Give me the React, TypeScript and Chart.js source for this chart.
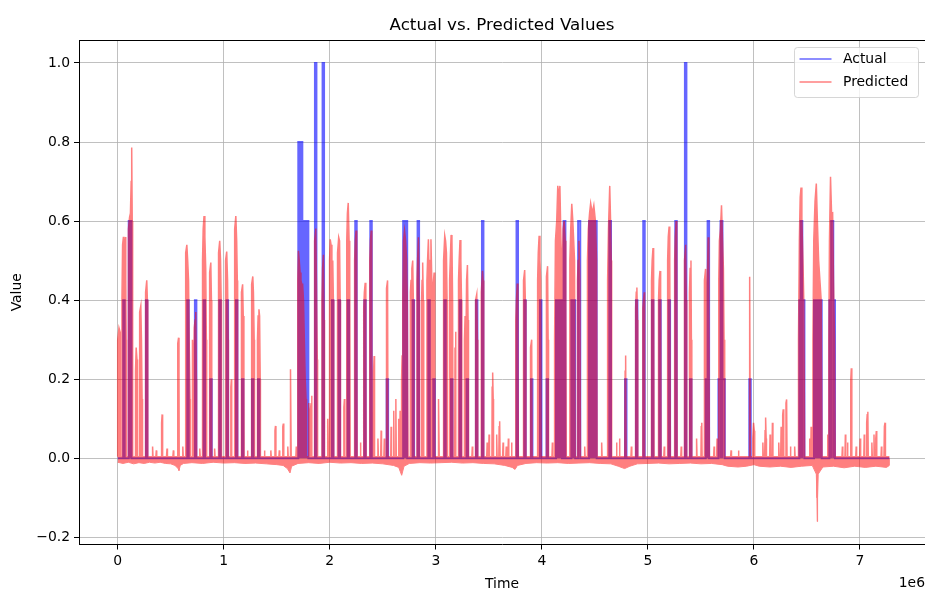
import React, { useEffect, useRef } from 'react';
import { Chart, registerables } from 'chart.js';

Chart.register(...registerables);

const CHART_TITLE = 'Actual vs. Predicted Values';
const X_LABEL = 'Time';
const Y_LABEL = 'Value';
const X_OFFSET_LABEL = '1e6';
const SERIES_NAMES = ['Actual', 'Predicted'];

const xTickValues = [0, 1, 2, 3, 4, 5, 6, 7];
const yTickValues = [-0.2, 0, 0.2, 0.4, 0.6, 0.8, 1.0];

// Actual series (time in units of 1e6): spike start, spike end, spike level
const actualStart = [
  0.052, 0.104, 0.118, 0.266, 0.656, 0.728, 0.810, 0.873, 0.958, 1.027, 1.115, 1.172, 1.266, 1.323,
  1.703, 1.722, 1.741, 1.760, 1.779, 1.860, 1.932, 2.020, 2.083, 2.168, 2.240, 2.325, 2.382, 2.536,
  2.692, 2.711, 2.781, 2.828, 2.929, 2.976, 3.080, 3.143, 3.224, 3.290, 3.378, 3.435, 3.761, 3.834,
  3.897, 3.982, 4.044, 4.133, 4.152, 4.171, 4.205, 4.278, 4.296, 4.342, 4.445, 4.463, 4.481, 4.499,
  4.636, 4.784, 4.887, 4.956, 5.038, 5.107, 5.195, 5.258, 5.349, 5.397, 5.545, 5.563, 5.665, 5.685,
  5.703, 5.956, 6.428, 6.440, 6.456, 6.566, 6.584, 6.602, 6.620, 6.711, 6.728, 6.748,
];
const actualEnd = [
  0.066, 0.118, 0.130, 0.280, 0.670, 0.742, 0.824, 0.887, 0.972, 1.041, 1.129, 1.186, 1.280, 1.337,
  1.722, 1.741, 1.760, 1.779, 1.798, 1.874, 1.946, 2.034, 2.097, 2.182, 2.254, 2.339, 2.396, 2.550,
  2.711, 2.730, 2.795, 2.842, 2.943, 2.990, 3.094, 3.157, 3.238, 3.304, 3.392, 3.449, 3.775, 3.848,
  3.911, 3.996, 4.058, 4.152, 4.171, 4.190, 4.222, 4.296, 4.314, 4.362, 4.463, 4.481, 4.499, 4.517,
  4.652, 4.798, 4.901, 4.970, 5.052, 5.121, 5.209, 5.272, 5.363, 5.411, 5.563, 5.577, 5.685, 5.703,
  5.725, 5.970, 6.440, 6.456, 6.476, 6.584, 6.602, 6.620, 6.639, 6.728, 6.748, 6.764,
];
const actualLevel = [
  0.4, 0.6, 0.6, 0.4, 0.4, 0.4, 0.4, 0.2, 0.4, 0.4, 0.4, 0.2, 0.2, 0.2,
  0.8, 0.8, 0.6, 0.6, 0.6, 1.0, 1.0, 0.4, 0.4, 0.4, 0.6, 0.4, 0.6, 0.2,
  0.6, 0.6, 0.4, 0.6, 0.4, 0.2, 0.4, 0.2, 0.4, 0.2, 0.4, 0.6, 0.6, 0.4,
  0.2, 0.4, 0.2, 0.4, 0.4, 0.4, 0.6, 0.4, 0.4, 0.6, 0.6, 0.6, 0.6, 0.6,
  0.6, 0.2, 0.4, 0.6, 0.4, 0.4, 0.4, 0.6, 1.0, 0.2, 0.2, 0.6, 0.2, 0.6,
  0.2, 0.2, 0.4, 0.6, 0.4, 0.4, 0.4, 0.4, 0.4, 0.4, 0.6, 0.4,
];
const seriesEnd = 7.277;

// Predicted series, upper envelope (time ×1e6, value)
const predictedPart1: [number, number][] = [
  [0.000, 0.004], [0.000, 0.30], [0.012, 0.33], [0.022, 0.32], [0.024, 0.004],
  [0.040, 0.004], [0.040, 0.40], [0.046, 0.54], [0.054, 0.56], [0.062, 0.50], [0.070, 0.56], [0.076, 0.45], [0.080, 0.30], [0.082, 0.004],
  [0.098, 0.004], [0.098, 0.45], [0.104, 0.58], [0.112, 0.61], [0.120, 0.62], [0.127, 0.70], [0.132, 0.786], [0.137, 0.60], [0.140, 0.30], [0.142, 0.004],
  [0.168, 0.004], [0.168, 0.22], [0.174, 0.28], [0.182, 0.25], [0.186, 0.10], [0.188, 0.004],
  [0.204, 0.004], [0.204, 0.30], [0.210, 0.37], [0.218, 0.386], [0.224, 0.30], [0.230, 0.15], [0.234, 0.004],
  [0.260, 0.004], [0.260, 0.38], [0.266, 0.42], [0.274, 0.45], [0.280, 0.40], [0.284, 0.004],
  [0.325, 0.004], [0.329, 0.03], [0.333, 0.004], [0.360, 0.004], [0.364, 0.02], [0.368, 0.004],
  [0.410, 0.004], [0.414, 0.09], [0.419, 0.111], [0.422, 0.09], [0.425, 0.004],
  [0.460, 0.004], [0.465, 0.025], [0.469, 0.004], [0.520, 0.004], [0.525, 0.02], [0.529, 0.004],
  [0.562, 0.004], [0.564, 0.25], [0.568, 0.29], [0.574, 0.305], [0.578, 0.20], [0.580, 0.004],
  [0.610, 0.004], [0.614, 0.03], [0.618, 0.004],
  [0.638, 0.004], [0.638, 0.45], [0.644, 0.52], [0.652, 0.54], [0.660, 0.50], [0.668, 0.45], [0.674, 0.30], [0.682, 0.15], [0.685, 0.004],
  [0.702, 0.004], [0.702, 0.25], [0.708, 0.30], [0.716, 0.20], [0.722, 0.33], [0.730, 0.35], [0.736, 0.37], [0.742, 0.20], [0.744, 0.004],
  [0.770, 0.004], [0.774, 0.025], [0.778, 0.004],
  [0.800, 0.004], [0.800, 0.50], [0.806, 0.58], [0.814, 0.613], [0.822, 0.56], [0.830, 0.48], [0.836, 0.30], [0.839, 0.004],
  [0.864, 0.004], [0.864, 0.40], [0.870, 0.47], [0.878, 0.495], [0.884, 0.40], [0.887, 0.004],
  [0.910, 0.004], [0.914, 0.025], [0.918, 0.004],
  [0.948, 0.004], [0.948, 0.45], [0.954, 0.52], [0.962, 0.55], [0.970, 0.50], [0.976, 0.40], [0.979, 0.004],
  [1.014, 0.004], [1.014, 0.45], [1.020, 0.50], [1.028, 0.523], [1.036, 0.45], [1.042, 0.30], [1.044, 0.004],
  [1.065, 0.004], [1.067, 0.18], [1.072, 0.20], [1.075, 0.004],
  [1.100, 0.004], [1.100, 0.50], [1.106, 0.58], [1.114, 0.613], [1.122, 0.55], [1.128, 0.45], [1.131, 0.004],
  [1.164, 0.004], [1.164, 0.35], [1.170, 0.42], [1.178, 0.44], [1.184, 0.36], [1.190, 0.20], [1.192, 0.004],
  [1.220, 0.004], [1.224, 0.02], [1.228, 0.004],
  [1.260, 0.004], [1.260, 0.40], [1.266, 0.44], [1.274, 0.46], [1.280, 0.42], [1.287, 0.30], [1.290, 0.004],
  [1.318, 0.004], [1.318, 0.30], [1.324, 0.36], [1.332, 0.377], [1.338, 0.36], [1.344, 0.20], [1.346, 0.004],
  [1.380, 0.004], [1.384, 0.02], [1.388, 0.004], [1.440, 0.004], [1.444, 0.02], [1.448, 0.004],
  [1.480, 0.004], [1.483, 0.07], [1.488, 0.082], [1.492, 0.004],
  [1.520, 0.004], [1.524, 0.02], [1.528, 0.004],
  [1.555, 0.004], [1.557, 0.08], [1.562, 0.088], [1.566, 0.004],
  [1.600, 0.004], [1.604, 0.03], [1.608, 0.004],
  [1.625, 0.004], [1.627, 0.20], [1.632, 0.225], [1.636, 0.004],
  [1.680, 0.004], [1.684, 0.03], [1.688, 0.004],
];
const predictedPart2: [number, number][] = [
  [1.698, 0.004], [1.698, 0.45], [1.704, 0.525], [1.712, 0.50], [1.720, 0.47], [1.728, 0.45], [1.736, 0.44],
  [1.744, 0.44], [1.752, 0.40], [1.760, 0.30], [1.768, 0.20], [1.776, 0.15], [1.780, 0.004],
  [1.802, 0.004], [1.802, 0.14], [1.808, 0.08], [1.816, 0.12], [1.824, 0.14], [1.829, 0.158], [1.832, 0.004],
  [1.854, 0.004], [1.854, 0.45], [1.860, 0.55], [1.868, 0.581], [1.874, 0.45], [1.882, 0.25], [1.885, 0.004],
  [1.926, 0.004], [1.926, 0.40], [1.932, 0.48], [1.940, 0.515], [1.946, 0.35], [1.950, 0.004],
  [1.976, 0.004], [1.978, 0.09], [1.983, 0.10], [1.986, 0.004],
  [1.998, 0.004], [1.998, 0.50], [2.004, 0.554], [2.012, 0.54], [2.020, 0.45], [2.028, 0.50], [2.034, 0.40], [2.038, 0.004],
  [2.070, 0.004], [2.070, 0.45], [2.076, 0.52], [2.084, 0.559], [2.092, 0.55], [2.098, 0.40], [2.101, 0.004],
  [2.131, 0.004], [2.133, 0.13], [2.138, 0.15], [2.142, 0.004],
  [2.160, 0.004], [2.160, 0.55], [2.166, 0.62], [2.174, 0.646], [2.182, 0.55], [2.188, 0.45], [2.192, 0.004],
  [2.234, 0.004], [2.234, 0.50], [2.240, 0.55], [2.248, 0.576], [2.254, 0.45], [2.258, 0.004],
  [2.285, 0.004], [2.289, 0.04], [2.293, 0.004],
  [2.320, 0.004], [2.320, 0.38], [2.326, 0.42], [2.334, 0.444], [2.340, 0.30], [2.343, 0.004],
  [2.377, 0.004], [2.377, 0.50], [2.383, 0.55], [2.391, 0.576], [2.396, 0.35], [2.400, 0.004],
  [2.410, 0.004], [2.413, 0.22], [2.418, 0.259], [2.422, 0.004],
  [2.450, 0.004], [2.454, 0.05], [2.458, 0.004], [2.480, 0.004], [2.484, 0.07], [2.488, 0.004],
  [2.510, 0.004], [2.514, 0.05], [2.518, 0.004],
  [2.532, 0.004], [2.532, 0.40], [2.538, 0.43], [2.545, 0.45], [2.549, 0.004],
  [2.575, 0.004], [2.578, 0.08], [2.582, 0.004], [2.599, 0.004], [2.603, 0.12], [2.607, 0.004],
  [2.619, 0.004], [2.623, 0.15], [2.627, 0.004], [2.644, 0.004], [2.648, 0.10], [2.652, 0.004],
  [2.659, 0.004], [2.663, 0.12], [2.667, 0.004],
  [2.675, 0.004], [2.677, 0.20], [2.682, 0.259], [2.688, 0.40], [2.695, 0.55], [2.705, 0.576], [2.715, 0.55],
  [2.725, 0.50], [2.731, 0.40], [2.738, 0.004],
  [2.760, 0.004], [2.760, 0.42], [2.766, 0.45], [2.774, 0.48], [2.782, 0.50], [2.788, 0.40], [2.794, 0.004],
  [2.822, 0.004], [2.822, 0.45], [2.828, 0.50], [2.836, 0.559], [2.842, 0.40], [2.846, 0.004],
  [2.866, 0.004], [2.866, 0.40], [2.870, 0.45], [2.876, 0.495], [2.882, 0.40], [2.886, 0.004],
  [2.916, 0.004], [2.916, 0.45], [2.922, 0.50], [2.930, 0.554], [2.938, 0.45], [2.946, 0.50], [2.954, 0.554],
  [2.962, 0.45], [2.970, 0.40], [2.978, 0.45], [2.984, 0.47], [2.988, 0.10], [2.992, 0.004],
  [3.021, 0.004], [3.023, 0.13], [3.028, 0.15], [3.032, 0.004],
  [3.070, 0.004], [3.070, 0.45], [3.076, 0.50], [3.084, 0.563], [3.092, 0.55], [3.100, 0.52], [3.106, 0.40], [3.109, 0.004],
  [3.130, 0.004], [3.130, 0.45], [3.136, 0.50], [3.144, 0.565], [3.152, 0.55], [3.158, 0.40], [3.162, 0.004],
  [3.178, 0.004], [3.181, 0.28], [3.186, 0.32], [3.190, 0.004],
  [3.214, 0.004], [3.214, 0.45], [3.220, 0.50], [3.228, 0.552], [3.236, 0.50], [3.242, 0.40], [3.245, 0.004],
  [3.270, 0.004], [3.270, 0.30], [3.276, 0.36], [3.284, 0.30], [3.290, 0.45], [3.298, 0.489], [3.304, 0.35], [3.308, 0.004],
];
const predictedPart3: [number, number][] = [
  [3.340, 0.004], [3.344, 0.03], [3.348, 0.004],
  [3.372, 0.004], [3.372, 0.35], [3.378, 0.40], [3.386, 0.415], [3.392, 0.30], [3.396, 0.004],
  [3.426, 0.004], [3.426, 0.38], [3.432, 0.42], [3.440, 0.474], [3.446, 0.45], [3.452, 0.004],
  [3.480, 0.004], [3.484, 0.04], [3.488, 0.004], [3.498, 0.004], [3.502, 0.06], [3.506, 0.004],
  [3.529, 0.004], [3.531, 0.18], [3.536, 0.217], [3.541, 0.15], [3.544, 0.004],
  [3.570, 0.004], [3.574, 0.06], [3.578, 0.004],
  [3.594, 0.004], [3.597, 0.08], [3.602, 0.094], [3.606, 0.004],
  [3.630, 0.004], [3.634, 0.04], [3.638, 0.004], [3.660, 0.004], [3.664, 0.03], [3.668, 0.004],
  [3.680, 0.004], [3.684, 0.05], [3.688, 0.004], [3.710, 0.004], [3.714, 0.04], [3.718, 0.004],
  [3.754, 0.004], [3.754, 0.35], [3.760, 0.40], [3.768, 0.442], [3.774, 0.30], [3.778, 0.004],
  [3.824, 0.004], [3.824, 0.40], [3.830, 0.45], [3.838, 0.476], [3.844, 0.40], [3.850, 0.004],
  [3.890, 0.004], [3.890, 0.25], [3.896, 0.28], [3.904, 0.30], [3.908, 0.004],
  [3.960, 0.004], [3.960, 0.45], [3.966, 0.52], [3.974, 0.563], [3.982, 0.50], [3.988, 0.45], [3.992, 0.004],
  [4.040, 0.004], [4.040, 0.40], [4.046, 0.46], [4.054, 0.486], [4.059, 0.30], [4.063, 0.004],
  [4.095, 0.004], [4.099, 0.04], [4.103, 0.004],
  [4.120, 0.004], [4.120, 0.30], [4.128, 0.55], [4.140, 0.60], [4.150, 0.689], [4.160, 0.66], [4.170, 0.689],
  [4.180, 0.55], [4.190, 0.45], [4.200, 0.58], [4.210, 0.60], [4.220, 0.55], [4.226, 0.40], [4.230, 0.004],
  [4.264, 0.004], [4.264, 0.50], [4.272, 0.58], [4.282, 0.644], [4.292, 0.60], [4.300, 0.55], [4.308, 0.50], [4.314, 0.004],
  [4.336, 0.004], [4.336, 0.45], [4.342, 0.50], [4.350, 0.55], [4.358, 0.45], [4.364, 0.004],
  [4.400, 0.004], [4.404, 0.03], [4.408, 0.004],
  [4.430, 0.004], [4.430, 0.50], [4.438, 0.58], [4.450, 0.62], [4.460, 0.645], [4.475, 0.62], [4.490, 0.64],
  [4.505, 0.60], [4.516, 0.50], [4.521, 0.004],
  [4.560, 0.004], [4.564, 0.04], [4.568, 0.004],
  [4.620, 0.004], [4.620, 0.45], [4.628, 0.58], [4.640, 0.689], [4.648, 0.60], [4.654, 0.50], [4.658, 0.004],
  [4.700, 0.004], [4.704, 0.04], [4.708, 0.004], [4.728, 0.004], [4.732, 0.05], [4.736, 0.004],
  [4.782, 0.004], [4.785, 0.22], [4.790, 0.26], [4.795, 0.004],
  [4.840, 0.004], [4.844, 0.03], [4.848, 0.004],
  [4.884, 0.004], [4.884, 0.38], [4.890, 0.42], [4.896, 0.432], [4.902, 0.35], [4.905, 0.004],
  [4.952, 0.004], [4.952, 0.38], [4.958, 0.40], [4.966, 0.42], [4.969, 0.004],
];
const predictedPart4: [number, number][] = [
  [5.034, 0.004], [5.034, 0.45], [5.040, 0.50], [5.048, 0.532], [5.054, 0.45], [5.058, 0.004],
  [5.100, 0.004], [5.100, 0.40], [5.106, 0.45], [5.114, 0.474], [5.120, 0.40], [5.124, 0.004],
  [5.150, 0.004], [5.154, 0.03], [5.158, 0.004],
  [5.186, 0.004], [5.186, 0.50], [5.192, 0.56], [5.200, 0.586], [5.206, 0.50], [5.212, 0.004],
  [5.252, 0.004], [5.252, 0.50], [5.258, 0.56], [5.266, 0.60], [5.272, 0.50], [5.276, 0.004],
  [5.310, 0.004], [5.314, 0.03], [5.318, 0.004],
  [5.342, 0.004], [5.342, 0.45], [5.348, 0.50], [5.356, 0.54], [5.362, 0.40], [5.366, 0.004],
  [5.392, 0.004], [5.392, 0.42], [5.398, 0.48], [5.406, 0.50], [5.410, 0.30], [5.414, 0.004],
  [5.455, 0.004], [5.459, 0.05], [5.463, 0.004],
  [5.500, 0.004], [5.503, 0.08], [5.508, 0.09], [5.511, 0.004],
  [5.530, 0.004], [5.530, 0.40], [5.536, 0.45], [5.544, 0.479], [5.552, 0.30], [5.560, 0.45], [5.568, 0.559], [5.574, 0.40], [5.580, 0.004],
  [5.620, 0.004], [5.624, 0.03], [5.628, 0.004], [5.648, 0.004], [5.652, 0.05], [5.656, 0.004],
  [5.668, 0.004], [5.668, 0.45], [5.674, 0.55], [5.684, 0.58], [5.694, 0.64], [5.704, 0.55], [5.712, 0.48], [5.718, 0.30], [5.724, 0.004],
  [5.780, 0.004], [5.784, 0.02], [5.788, 0.004], [5.850, 0.004], [5.854, 0.02], [5.858, 0.004],
  [5.954, 0.004], [5.957, 0.40], [5.962, 0.459], [5.966, 0.004],
  [5.986, 0.004], [5.989, 0.05], [5.996, 0.09], [6.003, 0.07], [6.007, 0.004],
  [6.080, 0.004], [6.084, 0.04], [6.088, 0.004], [6.101, 0.004], [6.105, 0.07], [6.110, 0.103], [6.115, 0.05], [6.118, 0.004],
  [6.148, 0.004], [6.152, 0.06], [6.156, 0.004], [6.170, 0.004], [6.174, 0.09], [6.179, 0.004],
  [6.230, 0.004], [6.234, 0.04], [6.238, 0.004], [6.252, 0.004], [6.256, 0.08], [6.260, 0.004],
  [6.268, 0.004], [6.271, 0.11], [6.276, 0.124], [6.281, 0.004], [6.298, 0.004], [6.302, 0.14], [6.308, 0.149], [6.312, 0.004],
  [6.340, 0.004], [6.344, 0.03], [6.348, 0.004], [6.380, 0.004], [6.384, 0.03], [6.388, 0.004],
  [6.420, 0.004], [6.420, 0.30], [6.428, 0.55], [6.436, 0.66], [6.444, 0.685], [6.452, 0.60], [6.462, 0.50], [6.470, 0.40], [6.478, 0.004],
  [6.520, 0.004], [6.524, 0.05], [6.528, 0.004], [6.535, 0.004], [6.539, 0.08], [6.543, 0.004],
  [6.556, 0.004], [6.556, 0.30], [6.564, 0.55], [6.576, 0.65], [6.588, 0.695], [6.598, 0.60], [6.610, 0.50],
  [6.622, 0.45], [6.634, 0.40], [6.642, 0.004],
  [6.690, 0.004], [6.694, 0.06], [6.698, 0.004],
  [6.706, 0.004], [6.706, 0.30], [6.712, 0.55], [6.722, 0.712], [6.732, 0.62], [6.742, 0.621], [6.750, 0.45], [6.760, 0.30], [6.766, 0.004],
  [6.830, 0.004], [6.834, 0.03], [6.838, 0.004], [6.858, 0.004], [6.862, 0.06], [6.866, 0.004],
  [6.878, 0.004], [6.882, 0.04], [6.886, 0.004],
  [6.910, 0.004], [6.913, 0.20], [6.918, 0.228], [6.923, 0.004],
  [6.960, 0.004], [6.964, 0.03], [6.968, 0.004], [6.998, 0.004], [7.002, 0.05], [7.006, 0.004],
  [7.036, 0.004], [7.040, 0.06], [7.044, 0.004],
  [7.060, 0.004], [7.063, 0.09], [7.068, 0.11], [7.074, 0.118], [7.078, 0.004],
  [7.108, 0.004], [7.112, 0.04], [7.116, 0.004], [7.128, 0.004], [7.132, 0.06], [7.136, 0.004],
  [7.146, 0.004], [7.149, 0.05], [7.154, 0.069], [7.158, 0.004],
  [7.198, 0.004], [7.202, 0.03], [7.206, 0.004],
  [7.226, 0.004], [7.230, 0.08], [7.236, 0.09], [7.240, 0.004],
  [7.277, 0.004],
];
// Predicted series, lower envelope below zero
const predictedLow: [number, number][] = [
  [0.00, -0.010], [0.05, -0.013], [0.10, -0.010], [0.15, -0.014], [0.20, -0.011], [0.25, -0.013],
  [0.30, -0.010], [0.35, -0.012], [0.40, -0.010], [0.45, -0.013], [0.50, -0.014], [0.54, -0.018],
  [0.57, -0.026], [0.578, -0.031], [0.59, -0.018], [0.62, -0.013], [0.70, -0.011], [0.80, -0.013],
  [0.90, -0.010], [1.00, -0.012], [1.10, -0.011], [1.20, -0.013], [1.30, -0.012], [1.40, -0.014],
  [1.50, -0.016], [1.56, -0.018], [1.60, -0.026], [1.625, -0.037], [1.64, -0.020], [1.70, -0.013],
  [1.80, -0.011], [1.90, -0.013], [2.00, -0.010], [2.10, -0.012], [2.20, -0.011], [2.30, -0.013],
  [2.40, -0.012], [2.50, -0.014], [2.60, -0.018], [2.65, -0.023], [2.678, -0.043], [2.70, -0.020],
  [2.75, -0.013], [2.85, -0.011], [2.95, -0.012], [3.05, -0.011], [3.15, -0.010], [3.25, -0.012],
  [3.35, -0.011], [3.45, -0.013], [3.55, -0.014], [3.65, -0.018], [3.72, -0.023], [3.747, -0.028],
  [3.77, -0.018], [3.85, -0.013], [3.95, -0.011], [4.05, -0.012], [4.15, -0.011], [4.25, -0.013],
  [4.35, -0.012], [4.45, -0.011], [4.55, -0.013], [4.65, -0.014], [4.72, -0.020], [4.78, -0.026],
  [4.83, -0.020], [4.90, -0.014], [5.00, -0.013], [5.10, -0.012], [5.20, -0.014], [5.30, -0.013],
  [5.40, -0.012], [5.50, -0.014], [5.60, -0.013], [5.70, -0.016], [5.75, -0.020], [5.85, -0.022],
  [5.93, -0.020], [6.00, -0.016], [6.05, -0.020], [6.15, -0.022], [6.25, -0.020], [6.35, -0.023],
  [6.45, -0.020], [6.55, -0.018], [6.588, -0.04], [6.594, -0.10], [6.597, -0.160], [6.600, -0.10],
  [6.606, -0.04], [6.65, -0.022], [6.75, -0.020], [6.85, -0.024], [6.95, -0.020], [7.05, -0.023],
  [7.15, -0.020], [7.25, -0.023], [7.277, -0.018], [7.277, 0],
];

const FONT = '"DejaVu Sans", "Liberation Sans", sans-serif';
const BLUE = 'rgba(0,0,255,0.6)';
const RED = 'rgba(255,0,0,0.5)';
const RED_SOLID = 'rgb(255,0,0)';
const RED_LAYER_OPACITY = 0.5;

function buildActual() {
  const pts: { x: number; y: number }[] = [{ x: 0, y: 0 }];
  for (let i = 0; i < actualStart.length; i++) {
    pts.push(
      { x: actualStart[i], y: 0 },
      { x: actualStart[i], y: actualLevel[i] },
      { x: actualEnd[i], y: actualLevel[i] },
      { x: actualEnd[i], y: 0 },
    );
  }
  pts.push({ x: seriesEnd, y: 0 });
  return pts;
}

const toPts = (arr: [number, number][]) => arr.map(([x, y]) => ({ x, y }));

const decorPlugin = {
  id: 'decor',
  afterDraw(chart: any) {
    const { ctx, chartArea } = chart;
    const { left, right, top } = chartArea;
    ctx.save();
    ctx.strokeStyle = '#000';
    ctx.lineWidth = 1;
    ctx.beginPath();
    ctx.moveTo(left, Math.round(top) + 0.5);
    ctx.lineTo(right, Math.round(top) + 0.5);
    ctx.stroke();
    ctx.fillStyle = '#000';
    ctx.font = `16.7px ${FONT}`;
    ctx.textAlign = 'center';
    ctx.textBaseline = 'alphabetic';
    ctx.fillText(CHART_TITLE, (left + right) / 2, 29.5);
    ctx.font = `13.9px ${FONT}`;
    ctx.textAlign = 'right';
    ctx.fillText(X_OFFSET_LABEL, right, 587);
    const bw = 124, bh = 50;
    const bx = right - 7 - bw + 0.5;
    const by = top + 7 + 0.5;
    const r = 3;
    ctx.beginPath();
    ctx.moveTo(bx + r, by);
    ctx.lineTo(bx + bw - r, by);
    ctx.quadraticCurveTo(bx + bw, by, bx + bw, by + r);
    ctx.lineTo(bx + bw, by + bh - r);
    ctx.quadraticCurveTo(bx + bw, by + bh, bx + bw - r, by + bh);
    ctx.lineTo(bx + r, by + bh);
    ctx.quadraticCurveTo(bx, by + bh, bx, by + bh - r);
    ctx.lineTo(bx, by + r);
    ctx.quadraticCurveTo(bx, by, bx + r, by);
    ctx.closePath();
    ctx.fillStyle = 'rgba(255,255,255,0.8)';
    ctx.fill();
    ctx.strokeStyle = 'rgba(204,204,204,0.8)';
    ctx.lineWidth = 1;
    ctx.stroke();
    const colors = [BLUE, RED];
    const rowY = [by + 11.5, by + 34.5];
    ctx.lineWidth = 1.5;
    ctx.textAlign = 'left';
    ctx.textBaseline = 'middle';
    for (let i = 0; i < 2; i++) {
      ctx.strokeStyle = colors[i];
      ctx.beginPath();
      ctx.moveTo(bx + 5, rowY[i]);
      ctx.lineTo(bx + 37, rowY[i]);
      ctx.stroke();
      ctx.fillStyle = '#000';
      ctx.fillText(SERIES_NAMES[i], bx + 48.5, rowY[i]);
    }
    ctx.restore();
  },
};

function makeScales(visible: boolean) {
  const tickFont = { family: FONT, size: 13.9 };
  const grid = visible
    ? { color: '#b0b0b0', lineWidth: 0.8, tickLength: 5, tickColor: '#000', tickWidth: 1 }
    : { display: false, tickLength: 5 };
  return {
    x: {
      type: 'linear',
      min: -0.365,
      max: 7.613,
      afterBuildTicks: (s: any) => {
        s.ticks = xTickValues.map((v) => ({ value: v }));
      },
      afterFit: (s: any) => {
        s.height = 46.5;
      },
      grid,
      border: { display: visible, color: '#000', width: 1 },
      ticks: {
        display: visible,
        color: '#000',
        font: tickFont,
        padding: 4,
        maxRotation: 0,
        autoSkip: false,
        callback: (v: any) => String(v),
      },
      title: {
        display: visible,
        text: X_LABEL,
        color: '#000',
        font: { family: FONT, size: 13.9, lineHeight: 1 },
        padding: { top: 0, bottom: 0 },
      },
    },
    y: {
      type: 'linear',
      min: -0.218,
      max: 1.058,
      afterBuildTicks: (s: any) => {
        s.ticks = yTickValues.map((v) => ({ value: v }));
      },
      afterFit: (s: any) => {
        s.width = 79;
      },
      grid,
      border: { display: visible, color: '#000', width: 1 },
      ticks: {
        display: visible,
        color: '#000',
        font: tickFont,
        padding: 4,
        autoSkip: false,
        callback: (v: any) => {
          const n = Number(v);
          const s = Math.abs(n).toFixed(1);
          return n < -1e-9 ? '\u2212' + s : s;
        },
      },
      title: {
        display: visible,
        text: Y_LABEL,
        color: '#000',
        font: { family: FONT, size: 13.9, lineHeight: 1 },
        padding: { top: 10, bottom: 0 },
      },
    },
  };
}

function baseOptions(visible: boolean) {
  return {
    responsive: false,
    devicePixelRatio: 1,
    animation: false,
    events: [],
    layout: { padding: { top: 40, left: 0, right: 0, bottom: 0 } },
    plugins: {
      legend: { display: false },
      title: { display: false },
      tooltip: { enabled: false },
    },
    scales: makeScales(visible),
  };
}

export default function App() {
  const baseRef = useRef<HTMLCanvasElement | null>(null);
  const redRef = useRef<HTMLCanvasElement | null>(null);

  useEffect(() => {
    const c1 = baseRef.current;
    const c2 = redRef.current;
    if (!c1 || !c2) return;
    // Actual series + axes, grid, title, legend
    const chartA = new Chart(c1, {
      type: 'line',
      data: {
        datasets: [
          {
            label: SERIES_NAMES[0],
            data: buildActual(),
            borderColor: BLUE,
            backgroundColor: BLUE,
            borderWidth: 2,
            pointRadius: 0,
            fill: false,
            tension: 0,
          },
        ],
      },
      options: baseOptions(true),
      plugins: [decorPlugin],
    } as any);
    // Predicted series on a layer composited at alpha 0.5 (like a single translucent line)
    const chartB = new Chart(c2, {
      type: 'line',
      data: {
        datasets: [
          {
            label: SERIES_NAMES[1],
            data: toPts([...predictedPart1, ...predictedPart2, ...predictedPart3, ...predictedPart4]),
            borderColor: RED_SOLID,
            backgroundColor: RED_SOLID,
            borderWidth: 1.5,
            pointRadius: 0,
            fill: 'origin',
            tension: 0,
          },
          {
            label: SERIES_NAMES[1] + ' (low)',
            data: toPts(predictedLow),
            borderColor: RED_SOLID,
            backgroundColor: RED_SOLID,
            borderWidth: 1,
            pointRadius: 0,
            fill: 'origin',
            tension: 0,
          },
        ],
      },
      options: baseOptions(false),
    } as any);
    return () => {
      chartA.destroy();
      chartB.destroy();
    };
  }, []);

  return (
    <div style={{ position: 'fixed', left: 0, top: 0, width: 925, height: 591, background: '#fff', overflow: 'hidden' }}>
      <canvas ref={baseRef} width={925} height={591} style={{ position: 'absolute', left: 0, top: 0, width: 925, height: 591 }} />
      <canvas
        ref={redRef}
        width={925}
        height={591}
        style={{ position: 'absolute', left: 0, top: 0, width: 925, height: 591, opacity: RED_LAYER_OPACITY }}
      />
    </div>
  );
}
